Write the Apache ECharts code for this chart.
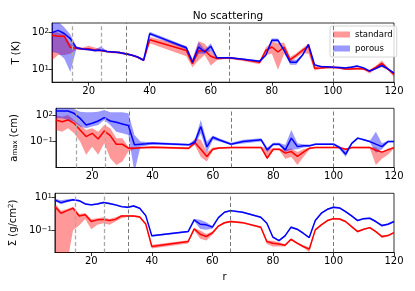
<!DOCTYPE html>
<html><head><meta charset="utf-8">
<script src="https://cdn.jsdelivr.net/npm/echarts@6/dist/echarts.min.js"></script>
<style>html,body{margin:0;padding:0;background:#fff}#c{width:415px;height:291px}</style>
</head><body><div id="c"></div>
<script>
// radial positions
const r = [8,10,12,14,16,18,20,22,24,26,28,30,32,34,36,38,40,52,54,56,58,60,62,64,66,70,76,78,80,82,84,86,88,90,92,94,96,98,100,102,104,106,108,110,112,114,116,118,120];

// Panel 1: T (K)
const T_std    = [85,80,80,40,38,36,37,34,33,31,30,29,27,25,22,18,64,33,14.5,32,33,23,20,20.5,21,19,15.8,33,41,30,41,18.6,24.5,33,43,11,11.2,11.5,11.7,11.2,10.5,10.5,10.7,10.5,9.1,11.5,14.8,10.5,7.4];
const T_std_lo = [18,25,25,27,35,34,33,31,31,29,28,27,25.5,23.5,20.5,17,52,23,11.7,18,25,13,18,19,19.5,17.5,14,25,27,10,27,16,21,28,27,9.5,10.4,10.7,10.9,10.4,9.8,9.8,10,9.8,7.9,10.5,11.7,9.7,6.3];
const T_std_hi = [115,100,89,50,42,40,44,40,36,33,32,31,28.5,26.5,23.5,19,76,43,20,59,50,31,22,22,22.5,20.5,17,40,56,52,54,22,28,38,50,12.6,12,12.3,12.5,12,11.2,11.2,11.4,11.2,10,12.5,17.8,11.3,8.3];
const T_por    = [100,115,95,69,39,36,35,33,34,31,30,29,27,25,22,18,94,39,16,41,30,43,21,21,21,19.5,17,24.5,62,62,33,16,16,24.5,48,13.5,12.2,12,11.7,11.5,11.2,11.7,12.5,11.2,9.2,10.7,13,10.5,8.1];
const T_por_lo = [30,28,20,8.7,36,34,33,31,31,29.5,28.5,27.5,25.5,23.8,21,17,85,35,14.8,27,27,32,20,20,20,18.5,16,23,55,55,31,13.5,13.5,23,45,12.8,11.6,11.4,11.1,10.9,10.6,11.1,11.9,10.6,8.7,10.2,12.3,10,7.7];
const T_por_hi = [220,200,140,89,42,38,37,35,42,32.5,31.5,30.5,28.5,26.3,23,19,105,43,18,56,35,52,22,22,22,20.5,18,26,69,69,35,18.6,18.6,26,51,14.2,12.8,12.6,12.3,12.1,11.8,12.3,13.1,11.8,9.7,11.2,14.8,11,8.5];

// Panel 2: a_max (cm)
const a_std    = [32,20,32,13,2.2,0.38,0.9,0.2,1.7,0.49,0.049,0.049,0.017,0.017,0.019,0.021,0.022,0.017,0.076,0.0126,0.0019,0.0132,0.018,0.019,0.02,0.02,0.02,0.0012,0.013,0.013,0.0046,0.007,0.0019,0.006,0.017,0.021,0.021,0.021,0.021,0.02,0.013,0.02,0.02,0.02,0.02,0.01,0.006,0.011,0.02];
const a_std_lo = [2.24,1.41,3.5,0.9,0.1,0.0029,0.026,0.0029,0.065,0.0012,0.0002,0.0005,0.007,0.013,0.015,0.016,0.017,0.012,0.04,0.0016,0.0005,0.01,0.014,0.015,0.016,0.016,0.016,0.0008,0.009,0.009,0.001,0.0016,0.0002,0.0016,0.012,0.017,0.017,0.017,0.017,0.016,0.0095,0.016,0.016,0.016,0.016,0.0002,0.001,0.003,0.016];
const a_std_hi = [120,76,120,32,8.3,2.24,3.5,1.41,8.3,3.5,0.24,0.24,0.026,0.022,0.024,0.027,0.028,0.022,0.25,0.16,0.0063,0.02,0.023,0.024,0.025,0.025,0.025,0.016,0.016,0.016,0.013,0.016,0.0063,0.013,0.02,0.026,0.026,0.026,0.026,0.025,0.016,0.025,0.025,0.025,0.025,0.02,0.0063,0.016,0.025];
const a_por    = [350,350,350,186,49,8.3,13,24,59,24,17,11,7.1,0.042,0.049,0.056,0.065,0.042,0.083,5.4,0.025,0.32,0.16,0.089,0.05,0.1,0.16,0.011,0.05,0.05,0.011,0.25,0.026,0.032,0.032,0.05,0.05,0.05,0.05,0.02,0.0035,0.063,0.25,0.16,0.1,0.05,0.026,0.1,0.1];
const a_por_lo = [49,49,32,20,5.4,3.5,5.4,8.3,32,8.3,1.41,0.9,0.59,0.00003,0.026,0.035,0.045,0.032,0.04,0.93,0.005,0.16,0.1,0.063,0.04,0.06,0.1,0.0063,0.035,0.035,0.0063,0.011,0.0126,0.02,0.025,0.04,0.04,0.04,0.04,0.012,0.0016,0.05,0.2,0.126,0.079,0.005,0.0126,0.079,0.079];
const a_por_hi = [830,830,830,590,290,240,240,290,450,240,240,240,186,0.59,0.1,0.089,0.089,0.056,0.16,32,0.1,0.5,0.25,0.13,0.071,0.16,0.25,0.02,0.071,0.071,0.04,2.24,0.063,0.05,0.045,0.063,0.063,0.063,0.063,0.03,0.008,0.08,0.32,0.2,0.126,1.41,0.063,0.126,0.126];

// Panel 3: Sigma (g/cm^2)
const S_std    = [2.75,1.1,1.58,2.2,0.76,0.89,0.35,0.44,0.47,0.4,0.47,0.76,0.76,0.76,0.66,0.25,0.011,0.022,0.126,0.06,0.044,0.072,0.186,0.295,0.355,0.3,0.158,0.022,0.0174,0.0158,0.0132,0.03,0.0174,0.011,0.0076,0.11,0.22,0.4,0.52,0.5,0.35,0.174,0.087,0.12,0.15,0.087,0.044,0.05,0.076];
const S_std_lo = [0.001,0.001,0.001,0.11,0.2,0.5,0.12,0.22,0.275,0.22,0.35,0.55,0.66,0.66,0.58,0.22,0.0083,0.0166,0.1,0.032,0.025,0.056,0.165,0.26,0.31,0.265,0.14,0.0158,0.011,0.011,0.011,0.026,0.015,0.0095,0.005,0.097,0.195,0.355,0.46,0.44,0.31,0.155,0.077,0.107,0.133,0.077,0.035,0.044,0.067];
const S_std_hi = [4.4,1.58,2.0,2.75,1.0,1.12,0.5,0.55,0.63,0.5,0.63,0.87,0.87,0.87,0.76,0.28,0.014,0.026,0.145,0.1,0.063,0.089,0.21,0.33,0.4,0.34,0.18,0.025,0.024,0.02,0.015,0.034,0.02,0.013,0.01,0.123,0.25,0.45,0.58,0.56,0.39,0.195,0.098,0.135,0.17,0.098,0.05,0.056,0.085];
const S_por    = [6.9,4.8,6.0,7.2,6.3,4.0,3.5,4.0,4.8,4.2,3.5,2.75,2.5,3.0,2.2,0.79,0.048,0.087,0.44,0.24,0.22,0.16,0.6,1.26,1.58,1.26,0.63,0.275,0.04,0.025,0.048,0.16,0.12,0.069,0.038,0.4,1.1,1.9,2.5,2.3,1.38,0.76,0.4,0.52,0.55,0.35,0.2,0.24,0.35];
const S_por_lo = [5.8,3.8,5.0,6.3,5.6,3.6,3.1,3.6,4.3,3.7,3.1,2.4,2.2,2.7,1.95,0.7,0.043,0.077,0.38,0.126,0.112,0.13,0.53,1.12,1.41,1.12,0.56,0.245,0.036,0.022,0.043,0.14,0.107,0.062,0.034,0.36,0.98,1.7,2.2,2.05,1.23,0.68,0.36,0.46,0.49,0.31,0.17,0.21,0.31];
const S_por_hi = [8.3,6.6,7.6,8.3,7.1,4.5,3.9,4.5,5.4,4.7,3.9,3.1,2.8,3.4,2.45,0.89,0.054,0.098,0.5,0.45,0.32,0.19,0.67,1.41,1.78,1.41,0.71,0.31,0.045,0.028,0.054,0.18,0.135,0.078,0.043,0.45,1.23,2.1,2.8,2.6,1.55,0.85,0.45,0.58,0.62,0.39,0.23,0.27,0.39];

// vertical reference lines
const vlinesLight = [14.7, 24.2];
const vlinesDark = [32.2, 66, 100];

// ticks
const xTicks = [20,40,60,80,100,120];
const yTicks1 = [10,100];
const yTicks2 = [0.1,100];
const yTicks3 = [0.1,10];

const FONT = 'DejaVu Sans';
const RED = '#ff0000', BLUE = '#0000ff';
const RED_F = 'rgba(255,0,0,0.4)', BLUE_F = 'rgba(0,0,255,0.4)';

const panels = [
  {name:'T (K)', min:4.6, max:182, ticks:yTicks1, std:T_std, slo:T_std_lo, shi:T_std_hi, por:T_por, plo:T_por_lo, phi:T_por_hi},
  {name:'a{sub|max} (cm)', min:1e-4, max:708, ticks:yTicks2, std:a_std, slo:a_std_lo, shi:a_std_hi, por:a_por, plo:a_por_lo, phi:a_por_hi},
  {name:'Σ (g/cm{sup|2})', min:0.0048, max:17.4, ticks:yTicks3, std:S_std, slo:S_std_lo, shi:S_std_hi, por:S_por, plo:S_por_lo, phi:S_por_hi}
];
const gridTops = [23, 108.3, 193.3];
const gridH = 59.2;

function powLabel(v){
  const e = Math.round(Math.log10(v));
  return '10{s|' + (e < 0 ? '\u2212' + (-e) : e) + '}';
}

function band(name, gi, lo, hi, color){
  return {
    type:'custom', name: name, xAxisIndex:gi, yAxisIndex:gi, clip:true, silent:true, z:1,
    itemStyle:{color: color},
    data: r.map((x,i)=>[x, lo[i], hi[i]]),
    encode:{x:0, y:[1,2]},
    renderItem: function(params, api){
      if (params.dataIndex !== 0) return null;
      const pts = [];
      for (let i=0;i<r.length;i++) pts.push(api.coord([r[i], hi[i]]));
      for (let i=r.length-1;i>=0;i--) pts.push(api.coord([r[i], lo[i]]));
      return {type:'polygon', shape:{points:pts}, style:{fill:color}};
    }
  };
}
function line(name, gi, vals, color, withMark){
  const s = {
    type:'line', name:name, xAxisIndex:gi, yAxisIndex:gi, showSymbol:false, symbol:'none', z:3,
    lineStyle:{color:color, width:1.5}, itemStyle:{color:color},
    data: r.map((x,i)=>[x, vals[i]]), clip:true
  };
  if (withMark){
    s.markLine = {silent:true, symbol:'none', label:{show:false}, animation:false,
      data: vlinesLight.map(v=>({xAxis:v, lineStyle:{color:'#aaaaaa', width:1.3, type:[4,2.5]}}))
        .concat(vlinesDark.map(v=>({xAxis:v, lineStyle:{color:'#555555', width:0.8, type:[4,2.5]}})))};
  }
  return s;
}

const grid=[], xAxis=[], yAxis=[], series=[];
panels.forEach((p, gi)=>{
  grid.push({left:52, right:21, top:gridTops[gi], height:gridH, show:true, borderColor:'#000', borderWidth:0.8, backgroundColor:'transparent'});
  xAxis.push({type:'value', gridIndex:gi, min:8, max:120,
    name: gi===2 ? 'r' : '', nameLocation:'middle', nameGap:20, nameTextStyle:{fontFamily:FONT, fontSize:10, color:'#000'},
    axisLine:{show:true, lineStyle:{color:'#000', width:0.8}},
    axisTick:{show:true, length:3.5, lineStyle:{color:'#000', width:0.8}, customValues:xTicks},
    axisLabel:{fontFamily:FONT, fontSize:10, color:'#000', margin:4, customValues:xTicks},
    splitLine:{show:false}});
  yAxis.push({type:'log', logBase:10, gridIndex:gi, min:p.min, max:p.max,
    name:p.name, nameLocation:'middle', nameGap:26, nameRotate:90,
    nameTextStyle:{fontFamily:FONT, fontSize:10, color:'#000',
      rich:{sub:{fontFamily:FONT, fontSize:7, verticalAlign:'bottom', lineHeight:8, padding:[4,0,0,0]},
            sup:{fontFamily:FONT, fontSize:7, verticalAlign:'top', lineHeight:7}}},
    axisLine:{show:true, lineStyle:{color:'#000', width:0.8}},
    axisTick:{show:true, length:3.5, lineStyle:{color:'#000', width:0.8}, customValues:p.ticks},
    axisLabel:{fontFamily:FONT, fontSize:10, color:'#000', margin:3, customValues:p.ticks, formatter:powLabel,
      rich:{s:{fontFamily:FONT, fontSize:7, verticalAlign:'top', lineHeight:7, padding:[0,0,4,0]}}},
    splitLine:{show:false}, minorTick:{show:false}});
  series.push(band('standard', gi, p.slo, p.shi, RED_F));
  series.push(line('standard line '+gi, gi, p.std, RED, true));
  series.push(band('porous', gi, p.plo, p.phi, BLUE_F));
  series.push(line('porous line '+gi, gi, p.por, BLUE, false));
});

const chart = echarts.init(document.getElementById('c'), null, {renderer:'canvas'});
chart.setOption({
  animation:false,
  backgroundColor:'#fff',
  title:{text:'No scattering', left:223, top:6, textAlign:'center',
    textStyle:{fontFamily:FONT, fontSize:10.5, fontWeight:'normal', color:'#000'}},
  legend:{orient:'vertical', left:330, top:26, selectedMode:false,
    itemWidth:17, itemHeight:6, itemGap:5, padding:[4,4,4,3],
    borderColor:'#cccccc', borderWidth:0.8, borderRadius:2, backgroundColor:'rgba(255,255,255,0.8)',
    textStyle:{fontFamily:FONT, fontSize:8.5, color:'#000'},
    data:[{name:'standard', icon:'rect', itemStyle:{color:RED_F}}, {name:'porous', icon:'rect', itemStyle:{color:BLUE_F}}]},
  grid, xAxis, yAxis, series
});
</script>
</body></html>
